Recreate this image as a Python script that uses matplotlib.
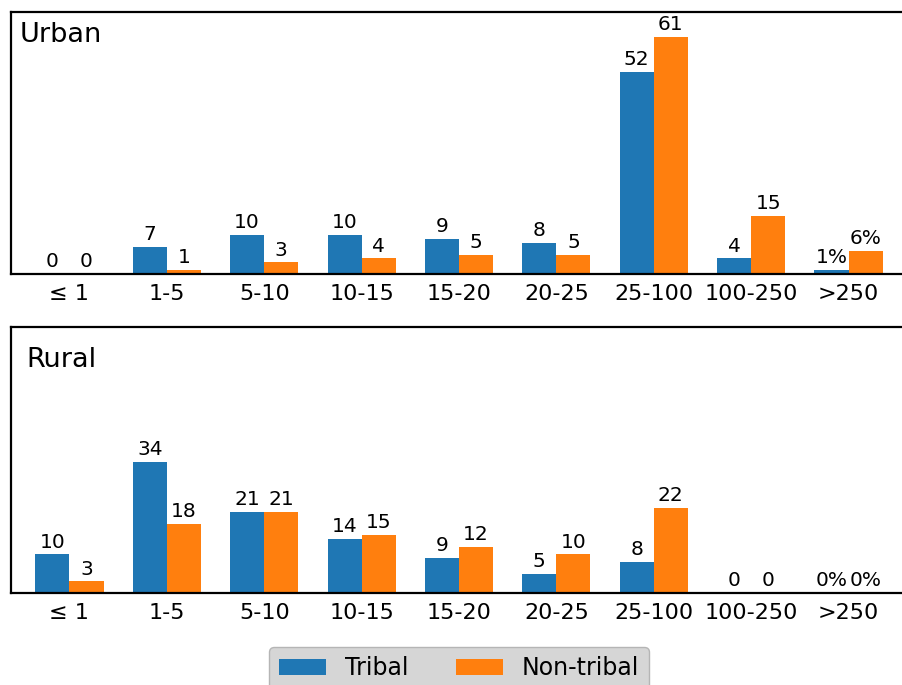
import matplotlib
matplotlib.use("Agg")
import numpy as np
import matplotlib.pyplot as plt

categories = ["≤ 1", "1-5", "5-10", "10-15", "15-20", "20-25", "25-100", "100-250", ">250"]

urban_tribal = [0, 7, 10, 10, 9, 8, 52, 4, 1]
urban_nontribal = [0, 1, 3, 4, 5, 5, 61, 15, 6]
rural_tribal = [10, 34, 21, 14, 9, 5, 8, 0, 0]
rural_nontribal = [3, 18, 21, 15, 12, 10, 22, 0, 0]

TRIBAL_COLOR = "#1f77b4"
NONTRIBAL_COLOR = "#ff7f0e"


def label_bars(ax, bars, values):
    last = len(values) - 1
    for i, (bar, v) in enumerate(zip(bars, values)):
        text = f"{v}%" if i == last else f"{v}"
        ax.annotate(
            text,
            xy=(bar.get_x() + bar.get_width() / 2, bar.get_height()),
            xytext=(0, 2),
            textcoords="offset points",
            ha="center",
            va="bottom",
            fontsize=14.5,
        )


def draw_panel(ax, tribal, nontribal, title, ymax, title_xy):
    x = np.arange(len(categories))
    width = 0.35
    b1 = ax.bar(x - width / 2, tribal, width, color=TRIBAL_COLOR, label="Tribal")
    b2 = ax.bar(x + width / 2, nontribal, width, color=NONTRIBAL_COLOR, label="Non-tribal")
    label_bars(ax, b1, tribal)
    label_bars(ax, b2, nontribal)

    ax.set_xlim(-0.6, len(categories) - 0.4)
    ax.set_ylim(0, ymax)
    ax.set_xticks(x)
    ax.set_xticklabels(categories, fontsize=16)
    ax.set_yticks([])
    ax.tick_params(axis="x", length=0, pad=7)
    for spine in ax.spines.values():
        spine.set_linewidth(1.6)

    ax.text(title_xy[0], title_xy[1], title, transform=ax.transAxes,
            fontsize=19.5, ha="left", va="top")
    return b1, b2


fig = plt.figure(figsize=(9.02, 6.85), dpi=100)
ax_urban = fig.add_axes([11 / 902, 1 - 274 / 685, 896 / 902, 262 / 685])
ax_rural = fig.add_axes([11 / 902, 1 - 593 / 685, 896 / 902, 266 / 685])

draw_panel(ax_urban, urban_tribal, urban_nontribal, "Urban", 67.4, (0.01, 0.96))
draw_panel(ax_rural, rural_tribal, rural_nontribal, "Rural", 68.9, (0.017, 0.925))

leg = ax_rural.legend(
    loc="upper center",
    bbox_to_anchor=(0.5, -0.158),
    ncol=2,
    fontsize=17,
    frameon=True,
    fancybox=True,
    framealpha=1,
)
leg.get_frame().set_facecolor("#d6d6d6")
leg.get_frame().set_edgecolor("#b5b5b5")

fig.savefig("out.png", dpi=100)
